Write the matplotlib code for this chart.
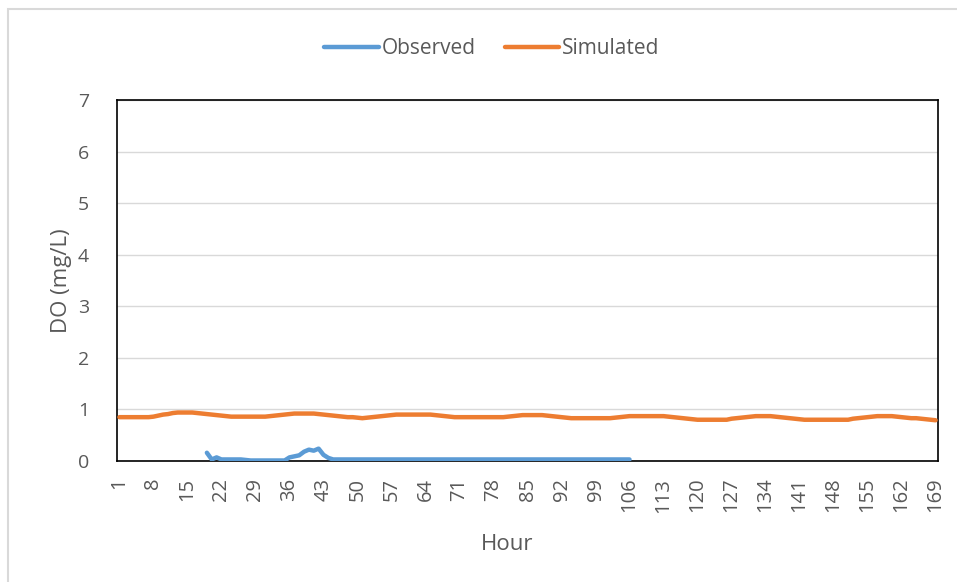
import numpy as np
import matplotlib.pyplot as plt
from matplotlib.patches import Rectangle

plt.rcParams['font.family'] = ['Open Sans', 'DejaVu Sans']

# Hourly dissolved oxygen, hours 1..169
hours = list(range(1, 170))

simulated = [
    0.85, 0.85, 0.85, 0.85, 0.85, 0.85, 0.85, 0.86, 0.88, 0.90, 0.91, 0.93, 0.94,
    0.94, 0.94, 0.94, 0.93, 0.92, 0.91, 0.90, 0.89, 0.88, 0.87, 0.86, 0.86, 0.86,
    0.86, 0.86, 0.86, 0.86, 0.86, 0.87, 0.88, 0.89, 0.90, 0.91, 0.92, 0.92, 0.92,
    0.92, 0.92, 0.91, 0.90, 0.89, 0.88, 0.87, 0.86, 0.85, 0.85, 0.84, 0.83, 0.84,
    0.85, 0.86, 0.87, 0.88, 0.89, 0.90, 0.90, 0.90, 0.90, 0.90, 0.90, 0.90, 0.90,
    0.89, 0.88, 0.87, 0.86, 0.85, 0.85, 0.85, 0.85, 0.85, 0.85, 0.85, 0.85, 0.85,
    0.85, 0.85, 0.86, 0.87, 0.88, 0.89, 0.89, 0.89, 0.89, 0.89, 0.88, 0.87, 0.86,
    0.85, 0.84, 0.83, 0.83, 0.83, 0.83, 0.83, 0.83, 0.83, 0.83, 0.83, 0.84, 0.85,
    0.86, 0.87, 0.87, 0.87, 0.87, 0.87, 0.87, 0.87, 0.87, 0.86, 0.85, 0.84, 0.83,
    0.82, 0.81, 0.80, 0.80, 0.80, 0.80, 0.80, 0.80, 0.80, 0.82, 0.83, 0.84, 0.85,
    0.86, 0.87, 0.87, 0.87, 0.87, 0.86, 0.85, 0.84, 0.83, 0.82, 0.81, 0.80, 0.80,
    0.80, 0.80, 0.80, 0.80, 0.80, 0.80, 0.80, 0.80, 0.82, 0.83, 0.84, 0.85, 0.86,
    0.87, 0.87, 0.87, 0.87, 0.86, 0.85, 0.84, 0.83, 0.83, 0.82, 0.81, 0.80, 0.79,
]

# Observed readings only exist for hours 19..106
obs_start = 19
observed_values = [
    0.16, 0.03, 0.07, 0.03, 0.03, 0.03, 0.03, 0.03, 0.02, 0.01, 0.01, 0.01, 0.01, 0.01,
    0.01, 0.01, 0.01, 0.07, 0.09, 0.11, 0.18, 0.22, 0.20, 0.24, 0.12, 0.06, 0.03, 0.03,
    0.03, 0.03, 0.03, 0.03, 0.03, 0.03, 0.03, 0.03, 0.03, 0.03, 0.03, 0.03, 0.03, 0.03,
    0.03, 0.03, 0.03, 0.03, 0.03, 0.03, 0.03, 0.03, 0.03, 0.03, 0.03, 0.03, 0.03, 0.03,
    0.03, 0.03, 0.03, 0.03, 0.03, 0.03, 0.03, 0.03, 0.03, 0.03, 0.03, 0.03, 0.03, 0.03,
    0.03, 0.03, 0.03, 0.03, 0.03, 0.03, 0.03, 0.03, 0.03, 0.03, 0.03, 0.03, 0.03, 0.03,
    0.03, 0.03, 0.03, 0.03,
]
observed_hours = list(range(obs_start, obs_start + len(observed_values)))

tick_hours = list(range(1, 170, 7))
y_ticks = list(range(0, 8))

text_color = '#595959'

fig = plt.figure(figsize=(9.57, 5.82), dpi=100)
ax = fig.add_axes([117 / 957, 1 - 461 / 582, (938 - 117) / 957, (461 - 100) / 582])

# thin grey chart frame
fig.patches.append(Rectangle((8 / 957, -0.01), 1.0, 1 - 9 / 582 + 0.01,
                             transform=fig.transFigure, fill=False,
                             edgecolor='#D9D9D9', linewidth=1.5))

ax.plot(observed_hours, observed_values, color='#5B9BD5', linewidth=3.2,
        label='Observed', solid_capstyle='round', zorder=3)
ax.plot(hours, simulated, color='#ED7D31', linewidth=3.2,
        label='Simulated', solid_capstyle='round', zorder=3)

ax.set_xlim(0.5, 169.5)
ax.set_ylim(0, 7)
ax.set_xticks(tick_hours)
ax.set_xticklabels([str(h) for h in tick_hours], rotation=90)
ax.set_yticks(y_ticks)
ax.grid(axis='y', color='#D9D9D9', linewidth=1)
ax.set_axisbelow(True)

for side in ax.spines.values():
    side.set_color('black')
    side.set_linewidth(1.2)

ax.tick_params(axis='both', length=0, colors=text_color)
ax.tick_params(axis='x', pad=12, labelsize=14.5)
ax.tick_params(axis='y', pad=20, labelsize=14)

ax.set_xlabel('Hour', fontsize=16, color=text_color)
ax.set_ylabel('DO (mg/L)', fontsize=16, color=text_color)
ax.xaxis.set_label_coords((507 - 117) / 821, (461 - 534) / 361)
ax.yaxis.set_label_coords((72 - 117) / 821, 0.5)

fig.legend(loc='center', bbox_to_anchor=(492 / 957, 1 - 49 / 582), ncol=2,
           frameon=False, fontsize=15, labelcolor=text_color,
           handlelength=2.6, handletextpad=0.15, columnspacing=1.4)

fig.savefig('out.png', dpi=100)
plt.close(fig)
